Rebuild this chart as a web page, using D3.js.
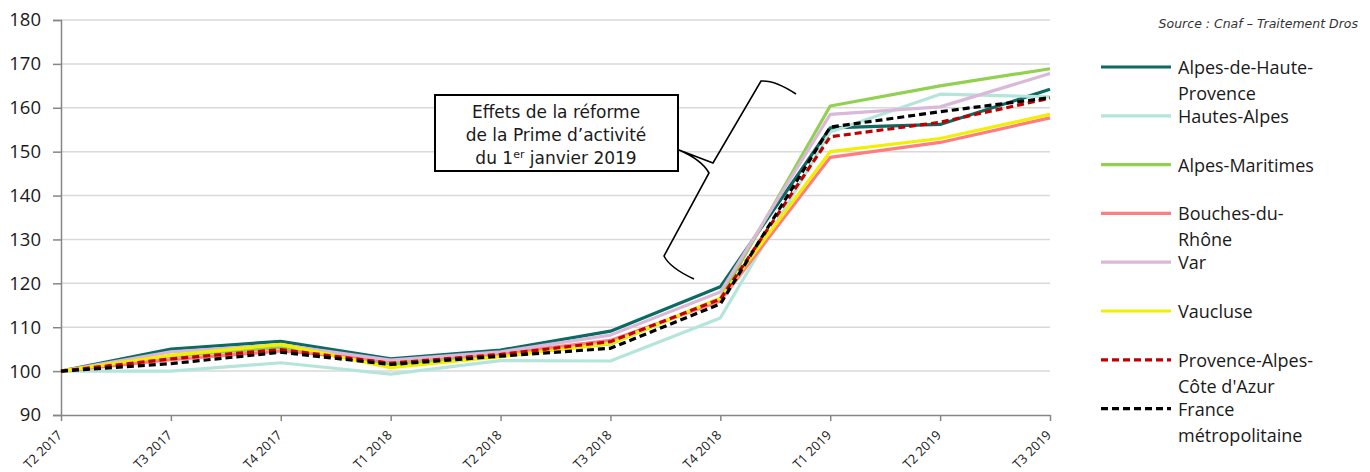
<!DOCTYPE html>
<meta charset="utf-8">
<style>
    body { margin: 0; background: #fff; }
    svg { display: block; }
</style>
<svg width="1370" height="472"></svg>
<script src="https://d3js.org/d3.v7.min.js"></script>
<script>
    // quarters on the x axis
    const quarters = ["T2 2017", "T3 2017", "T4 2017", "T1 2018", "T2 2018", "T3 2018", "T4 2018", "T1 2019", "T2 2019", "T3 2019"]
    const yTicks = [90, 100, 110, 120, 130, 140, 150, 160, 170, 180]

    // index values (base 100 = T2 2017)
    const alpesHauteProvence = [100, 105.0, 106.8, 102.8, 104.8, 109.1, 119.2, 155.4, 156.2, 164.2]
    const hautesAlpes        = [100, 100.0, 101.9, 99.3, 102.4, 102.3, 112.1, 154.5, 163.1, 162.5]
    const alpesMaritimes     = [100, 103.4, 105.4, 101.6, 103.6, 106.2, 116.6, 160.4, 165.0, 168.9]
    const bouchesDuRhone     = [100, 102.6, 104.6, 102.4, 104.0, 107.0, 116.0, 148.7, 152.1, 157.7]
    const varDep             = [100, 104.4, 106.0, 102.5, 104.4, 108.2, 118.0, 158.5, 160.2, 167.8]
    const vaucluse           = [100, 103.6, 106.1, 100.8, 103.3, 106.3, 116.6, 150.0, 153.0, 158.5]
    const paca               = [100, 102.8, 104.9, 101.8, 103.8, 106.7, 116.4, 153.4, 156.7, 162.2]
    const franceMetro        = [100, 101.7, 104.3, 101.5, 103.4, 105.2, 115.3, 155.6, 159.1, 162.3]

    const series = [
        { name: ["Alpes-de-Haute-", "Provence"], values: alpesHauteProvence, color: "#0b6b63", dash: null },
        { name: ["Hautes-Alpes"], values: hautesAlpes, color: "#b5e5da", dash: null },
        { name: ["Alpes-Maritimes"], values: alpesMaritimes, color: "#92d050", dash: null },
        { name: ["Bouches-du-", "Rhône"], values: bouchesDuRhone, color: "#ff7c80", dash: null },
        { name: ["Var"], values: varDep, color: "#d9b8da", dash: null },
        { name: ["Vaucluse"], values: vaucluse, color: "#f0f000", dash: null },
        { name: ["Provence-Alpes-", "Côte d'Azur"], values: paca, color: "#c00000", dash: "7,4" },
        { name: ["France", "métropolitaine"], values: franceMetro, color: "#000000", dash: "7,4" }
    ]

    const svg = d3.select("svg")
    const plotLeft = 61, plotRight = 1050, plotTop = 20, plotBottom = 415

    const x = d3.scalePoint().domain(quarters).range([plotLeft, plotRight])
    const y = d3.scaleLinear().domain([90, 180]).range([plotBottom, plotTop])

    const font = "'Open Sans', 'Liberation Sans', sans-serif"

    // grid
    svg.append("g").selectAll("line")
        .data(yTicks.slice(1))
        .join("line")
        .attr("x1", plotLeft).attr("x2", plotRight)
        .attr("y1", d => y(d)).attr("y2", d => y(d))
        .attr("stroke", "#d9d9d9").attr("stroke-width", 1.5)

    // y axis
    const yAxis = svg.append("g")
        .attr("transform", `translate(${plotLeft},0)`)
        .call(d3.axisLeft(y).tickValues(yTicks).tickSize(8).tickPadding(12))
    yAxis.select(".domain").attr("stroke", "#868686").attr("stroke-width", 1.5)
    yAxis.selectAll(".tick line").attr("stroke", "#868686").attr("stroke-width", 1.5)
    yAxis.selectAll("text").attr("font-family", font).attr("font-size", 18.5).attr("fill", "#1a1a1a")

    // x axis
    const xAxis = svg.append("g")
        .attr("transform", `translate(0,${plotBottom})`)
        .call(d3.axisBottom(x).tickSize(6).tickSizeOuter(0).tickFormat(""))
    xAxis.select(".domain").attr("stroke", "#868686").attr("stroke-width", 1.5)
    xAxis.selectAll(".tick line").attr("stroke", "#868686").attr("stroke-width", 1.5)

    svg.append("g").selectAll("text")
        .data(quarters)
        .join("text")
        .attr("transform", d => `translate(${x(d) + 2},${plotBottom + 21}) rotate(-45)`)
        .attr("text-anchor", "end")
        .attr("font-family", font).attr("font-size", 13).attr("fill", "#1a1a1a")
        .text(d => d)

    // lines
    const line = d3.line()
        .x((d, i) => x(quarters[i]))
        .y(d => y(d))

    svg.append("g").selectAll("path")
        .data(series)
        .join("path")
        .attr("d", d => line(d.values))
        .attr("fill", "none")
        .attr("stroke", d => d.color)
        .attr("stroke-width", 3.2)
        .attr("stroke-dasharray", d => d.dash)
        .attr("stroke-linejoin", "round")

    // annotation box
    const ann = svg.append("g")
    ann.append("rect")
        .attr("x", 435).attr("y", 95).attr("width", 243).attr("height", 76)
        .attr("fill", "#fff").attr("stroke", "#000").attr("stroke-width", 2)
    const annText = ann.append("text")
        .attr("font-family", "'DejaVu Sans', sans-serif").attr("font-size", 17)
        .attr("text-anchor", "middle").attr("fill", "#1a1a1a")
    annText.append("tspan").attr("x", 556).attr("y", 118).text("Effets de la réforme")
    annText.append("tspan").attr("x", 556).attr("y", 141).text("de la Prime d’activité")
    const l3 = annText.append("tspan").attr("x", 556).attr("y", 164)
    l3.text("du 1")
    annText.append("tspan").attr("font-size", 11).attr("dy", -6).text("er")
    annText.append("tspan").attr("dy", 6).text(" janvier 2019")

    // brace
    ann.append("path")
        .attr("d", "M796,94 Q775,80 761,81 L713,163 Q700,158 679,150 Q702,160 709,173 L664,256 Q670,268 694,279")
        .attr("fill", "none").attr("stroke", "#000").attr("stroke-width", 1.6)

    // source
    svg.append("text")
        .attr("x", 1358).attr("y", 28)
        .attr("text-anchor", "end")
        .attr("font-family", "'DejaVu Sans', sans-serif").attr("font-size", 12.5)
        .attr("font-style", "italic").attr("fill", "#333")
        .text("Source : Cnaf – Traitement Dros")

    // legend
    const legend = svg.append("g").selectAll("g")
        .data(series)
        .join("g")
        .attr("transform", (d, i) => `translate(1101,${67 + i * 48.8})`)
    legend.append("line")
        .attr("x1", 0).attr("x2", 70)
        .attr("stroke", d => d.color).attr("stroke-width", 3.2)
        .attr("stroke-dasharray", d => d.dash)
    legend.append("text")
        .attr("font-family", font).attr("font-size", 18).attr("fill", "#1a1a1a")
        .selectAll("tspan")
        .data(d => d.name)
        .join("tspan")
        .attr("x", 77)
        .attr("y", (d, i) => 7 + i * 26)
        .text(d => d)
</script>
